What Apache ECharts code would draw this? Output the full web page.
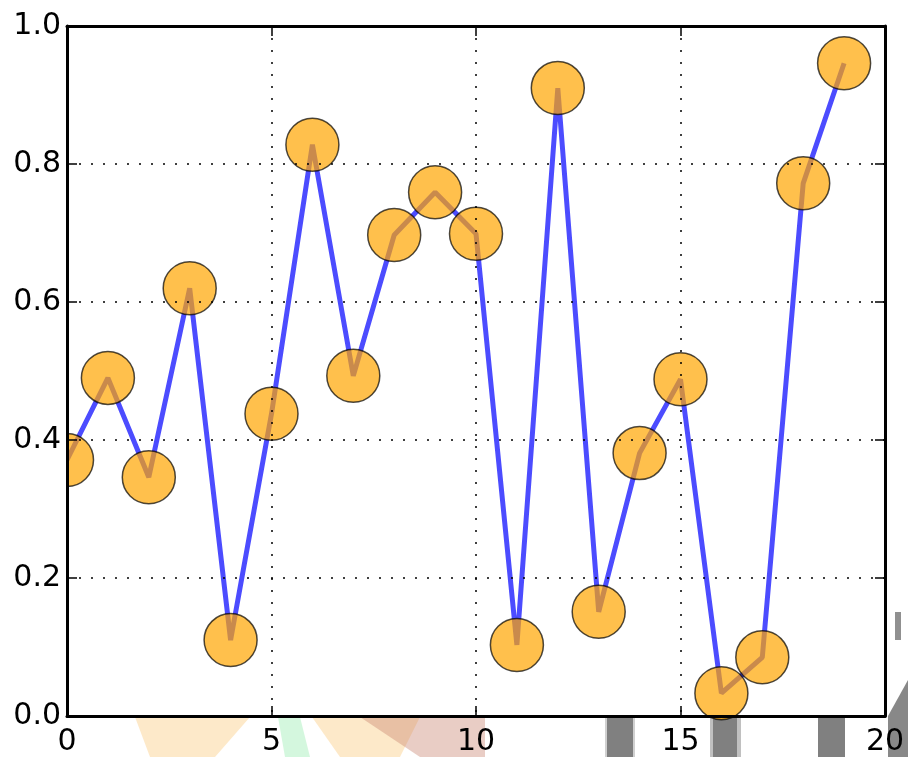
<!DOCTYPE html>
<html>
<head>
<meta charset="utf-8">
<script src="https://cdn.jsdelivr.net/npm/echarts@6/dist/echarts.min.js"></script>
<style>
  html, body { margin: 0; padding: 0; background: #fff; }
  #main { width: 908px; height: 757px; }
</style>
</head>
<body>
<div id="main"></div>
<script>
// data
var xValues = [0, 1, 2, 3, 4, 5, 6, 7, 8, 9, 10, 11, 12, 13, 14, 15, 16, 17, 18, 19];
var yValues = [0.371, 0.490, 0.346, 0.620, 0.110, 0.438, 0.828, 0.493, 0.697, 0.759,
               0.699, 0.103, 0.910, 0.151, 0.381, 0.488, 0.033, 0.085, 0.772, 0.946];
var xTicks = [0, 5, 10, 15, 20];
var yTicks = [0.0, 0.2, 0.4, 0.6, 0.8, 1.0];

var chartDom = document.getElementById('main');
var myChart = echarts.init(chartDom);
var option;

var points = xValues.map(function (x, i) { return [x, yValues[i]]; });
var font = 'DejaVu Sans';

function axisBase(extra) {
    var a = {
        type: 'value',
        z: 10,
        axisLine: { show: true, onZero: false, lineStyle: { color: '#000', width: 3 } },
        axisTick: { show: true, inside: true, length: 10, lineStyle: { color: '#000', width: 1.5 } },
        splitLine: { show: false },
        axisLabel: { show: false }
    };
    return Object.assign(a, extra);
}

var xCommon = { min: xTicks[0], max: xTicks[xTicks.length - 1], interval: xTicks[1] - xTicks[0] };
var yCommon = { min: yTicks[0], max: yTicks[yTicks.length - 1], interval: 0.2 };

option = {
    backgroundColor: '#fff',
    animation: false,
    grid: {
        left: 67, right: 23, top: 26, bottom: 41,
        containLabel: false,
        outerBoundsMode: 'none'
    },
    xAxis: [
        axisBase(Object.assign({
            position: 'bottom',
            splitLine: { show: true, lineStyle: { color: '#000', width: 1.5, type: [2, 10] } },
            axisLabel: {
                show: true, color: '#000', fontSize: 30, fontFamily: font, margin: 11,
                formatter: function (v) { return String(v); }
            }
        }, xCommon)),
        axisBase(Object.assign({ position: 'top' }, xCommon))
    ],
    yAxis: [
        axisBase(Object.assign({
            position: 'left',
            splitLine: { show: true, lineStyle: { color: '#000', width: 1.5, type: [2, 10] } },
            axisLabel: {
                show: true, color: '#000', fontSize: 30, fontFamily: font, margin: 6,
                formatter: function (v) { return v.toFixed(1); }
            }
        }, yCommon)),
        axisBase(Object.assign({ position: 'right' }, yCommon))
    ],
    graphic: [
        // hide marker overflow on the left, like matplotlib clipping
        { type: 'rect', z: 5, shape: { x: 0, y: 26, width: 66, height: 690 }, style: { fill: '#fff' } },
        // bits of the background picture under the axes
        { type: 'polygon', z: 1, shape: { points: [[135, 717], [250, 717], [215, 757], [150, 757]] }, style: { fill: 'rgba(250,200,120,0.4)' } },
        { type: 'polygon', z: 1, shape: { points: [[278, 717], [300, 717], [310, 757], [285, 757]] }, style: { fill: 'rgba(170,240,190,0.5)' } },
        { type: 'polygon', z: 1, shape: { points: [[312, 717], [420, 717], [400, 757], [340, 757]] }, style: { fill: 'rgba(250,200,120,0.4)' } },
        { type: 'polygon', z: 1, shape: { points: [[360, 717], [485, 717], [485, 757], [420, 757]] }, style: { fill: 'rgba(200,130,110,0.4)' } },
        { type: 'rect', z: 1, shape: { x: 605, y: 718, width: 30, height: 39 }, style: { fill: '#d0d0d0' } },
        { type: 'rect', z: 1, shape: { x: 607, y: 718, width: 26, height: 39 }, style: { fill: '#808080' } },
        { type: 'rect', z: 1, shape: { x: 710, y: 718, width: 31, height: 39 }, style: { fill: '#c0c0c0' } },
        { type: 'rect', z: 1, shape: { x: 713, y: 718, width: 24, height: 39 }, style: { fill: '#808080' } },
        { type: 'rect', z: 1, shape: { x: 818, y: 718, width: 27, height: 39 }, style: { fill: '#808080' } },
        { type: 'polygon', z: 1, shape: { points: [[888, 716], [908, 680], [908, 757], [888, 757]] }, style: { fill: '#888888' } },
        { type: 'rect', z: 1, shape: { x: 895, y: 612, width: 6, height: 28 }, style: { fill: '#909090' } }
    ],
    series: [
        {
            type: 'line',
            data: points,
            symbol: 'none',
            z: 2,
            lineStyle: { color: 'rgba(0,0,255,0.7)', width: 5 }
        },
        {
            type: 'scatter',
            data: points,
            symbol: 'circle',
            symbolSize: 53,
            clip: false,
            z: 3,
            itemStyle: {
                color: 'rgba(255,165,0,0.7)',
                borderColor: 'rgba(0,0,0,0.7)',
                borderWidth: 1.5,
                opacity: 1
            }
        }
    ]
};

option && myChart.setOption(option);
</script>
</body>
</html>
